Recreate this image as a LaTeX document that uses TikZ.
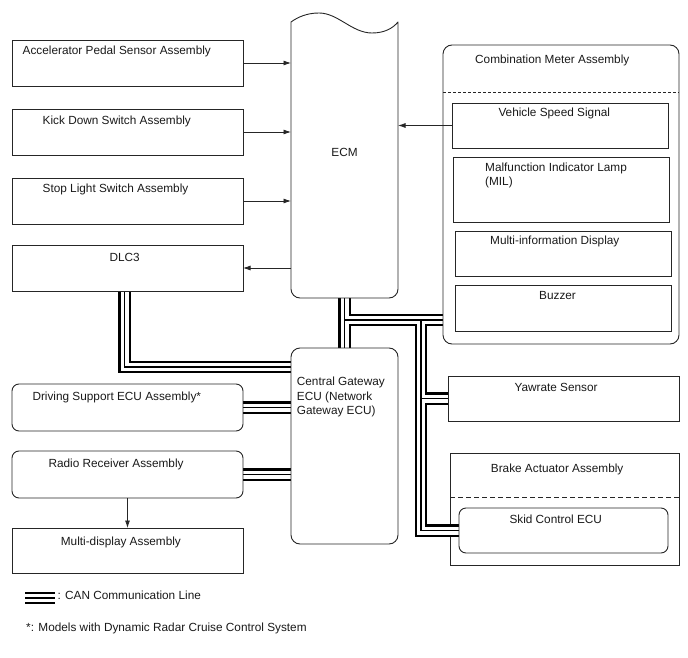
\documentclass[tikz,border=0pt]{standalone}
\usepackage{fontspec}
\setmainfont{Liberation Sans}
\usetikzlibrary{arrows.meta,backgrounds,calc}
\newcommand\mkbox[6]{\node[#6, minimum width={(#4-#2)*1pt}, minimum height={(#5-#3)*1pt}] (#1) at (#2,#3) {};}
\begin{document}
\begin{tikzpicture}[x=1pt,y=-1pt,
  box/.style={draw=black!85, line width=0.9pt, inner sep=0pt, outer sep=0pt, anchor=north west},
  rbox/.style={box, rounded corners=7pt},
  txt/.style={anchor=base west, inner sep=0pt, text=black!90, font=\fontsize{11.8}{14}\selectfont},
  arr/.style={line width=0.8pt, draw=black!85, -{Latex[length=7.5pt,width=5pt]}},
  canO/.style={line width=12.6pt, black},
  canW/.style={line width=8pt, white},
  canI/.style={line width=1.9pt, black},
  sepA/.style={line width=0.8pt, draw=black!85, dash pattern=on 3pt off 2pt},
  sepB/.style={line width=0.8pt, draw=black!85, dash pattern=on 5pt off 3pt}
]
\useasboundingbox (0,0) rectangle (688,658);

% left column
\mkbox{aps}{12}{40}{243}{86}{box}
\mkbox{kds}{12}{109}{243}{155}{box}
\mkbox{sls}{12}{178}{243}{224}{box}
\mkbox{dlc}{12}{245}{243}{291}{box}
\mkbox{dsa}{12}{384}{243}{431}{rbox}
\mkbox{rra}{12}{451}{243}{498}{rbox}
\mkbox{mda}{12}{528}{243}{573}{box}

\node[txt] (taps) at (22.5,55) {Accelerator Pedal Sensor Assembly};
\node[txt] (tkds) at (42.5,124.3) {Kick Down Switch Assembly};
\node[txt] (tsls) at (42.5,193) {Stop Light Switch Assembly};
\node[txt, anchor=base] (tdlc) at (124.7,261.7) {DLC3};
\node[txt] (tdsa) at (32.3,400.7) {Driving Support ECU Assembly*};
\node[txt] (trra) at (48.3,467.7) {Radio Receiver Assembly};
\node[txt] (tmda) at (60.7,545) {Multi-display Assembly};

% ECM
\node[inner sep=0pt, outer sep=0pt, minimum width=107pt, minimum height=276pt, anchor=north west] (ecm) at (291,22) {};
\draw[line width=0.9pt, draw=black!85, line join=round, line cap=round]
  (291,22) .. controls (298,17) and (307,13) .. (319,13)
  .. controls (338,13) and (352,33) .. (372,33)
  .. controls (385,33) and (393,28) .. (398,22)
  [rounded corners=9pt] -- (398,298) -- (291,298) -- (291,22);
\node[txt, anchor=base] (tecm) at (344.5,157) {ECM};

% Central gateway
\mkbox{cgw}{291}{348}{398}{544}{box, rounded corners=9pt}
\node[txt] (tcg1) at (296.7,385.7) {Central Gateway};
\node[txt] (tcg2) at (296.7,400) {ECU (Network};
\node[txt] (tcg3) at (296.7,414) {Gateway ECU)};

% Combination meter
\mkbox{cma}{443}{45}{679}{344}{box, rounded corners=9pt}
\draw[sepA] (cma.west |- 0,92) -- (cma.east |- 0,92);
\node[txt] (tcma) at (475,64) {Combination Meter Assembly};
\mkbox{vss}{452}{103}{668}{148}{box}
\mkbox{mil}{453}{157}{669}{222}{box}
\mkbox{mid}{455}{231}{671}{276}{box}
\mkbox{buz}{455}{285}{671}{331}{box}
\node[txt] (tvss) at (498.3,116.7) {Vehicle Speed Signal};
\node[txt] (tmil1) at (485,171.7) {Malfunction Indicator Lamp};
\node[txt] (tmil2) at (485,185.7) {(MIL)};
\node[txt] (tmid) at (490,244) {Multi-information Display};
\node[txt] (tbuz) at (539,299.3) {Buzzer};

% Yawrate
\mkbox{yaw}{448}{376}{679}{421}{box}
\node[txt] (tyaw) at (514.3,391) {Yawrate Sensor};

% Skid control
\mkbox{skid}{459}{508}{668}{553}{rbox}
\node[txt] (tskid) at (509.3,523.3) {Skid Control ECU};

% arrows
\draw[arr] (aps.east) -- (aps.east -| ecm.west);
\draw[arr] (kds.east) -- (kds.east -| ecm.west);
\draw[arr] (sls.east) -- (sls.east -| ecm.west);
\draw[arr] (dlc.east -| ecm.west) -- (dlc.east);
\draw[arr] (vss.west) -- (vss.west -| ecm.east);
\draw[arr] (rra.south) -- (mda.north);

% CAN bundles
\coordinate (d1) at (124.5,367);
\coordinate (j1) at (344.5,320);
\coordinate (j2) at (420.8,320);
\coordinate (l1) at (25,598);
\coordinate (l2) at (55,598);
\begin{pgfonlayer}{background}
  \mkbox{bra}{450}{453}{679}{565}{box}
  \draw[sepB] (bra.west |- 0,497) -- (bra.east |- 0,497);
  \foreach \s in {canO,canW,canI}{
    \draw[\s] (d1 |- dlc.south) -- (d1) -- (d1 -| cgw.west);
    \draw[\s] (dsa.east) -- (dsa.east -| cgw.west);
    \draw[\s] (rra.east) -- (rra.east -| cgw.west);
    \draw[\s] (ecm.south) -- (cgw.north);
    \draw[\s] (j1) -- (j1 -| cma.west);
    \draw[\s] (j2) |- (skid.west);
    \draw[\s] (j2 |- yaw.west) -- (yaw.west);
    \draw[\s] (l1) -- (l2);
  }
\end{pgfonlayer}
\node[txt] (tbra) at (490.7,472.3) {Brake Actuator Assembly};

% legend
\node[txt] (tleg) at (57.3,599.5) {: CAN Communication Line};
\node[txt] (tnote) at (26,631) {*: Models with Dynamic Radar Cruise Control System};
\end{tikzpicture}
\end{document}
